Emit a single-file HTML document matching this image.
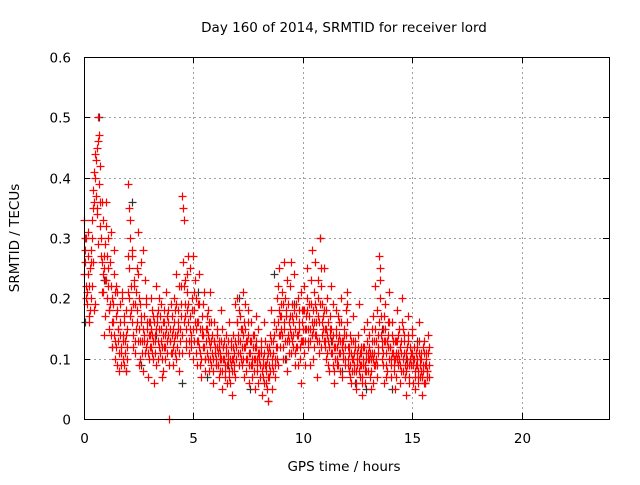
<!DOCTYPE html>
<html><head><meta charset="utf-8"><style>
body{margin:0;background:#fff;}
svg text{font-family:"DejaVu Sans","Liberation Sans",sans-serif;font-size:13.5px;fill:#000;}
</style></head><body>
<svg id="chart" width="640" height="480" xmlns="http://www.w3.org/2000/svg">
<rect width="640" height="480" fill="#fff"/>
<text x="344" y="32" text-anchor="middle">Day 160 of 2014, SRMTID for receiver lord</text>
<text x="344" y="471" text-anchor="middle">GPS time / hours</text>
<text transform="translate(19,238) rotate(-90)" text-anchor="middle">SRMTID / TECUs</text>
<g id="grid"></g>
<g id="ticks"></g>
<g id="black"></g>
<g id="red"></g>
<rect x="84.5" y="57.5" width="525" height="362" fill="none" stroke="#000" stroke-width="1"/>
</svg>
<script>
const xTicks=[0,5,10,15,20];
const yTicks=[0,0.1,0.2,0.3,0.4,0.5,0.6];
const yTickLabels=["0","0.1","0.2","0.3","0.4","0.5","0.6"];
const sampleStep=0.05;
const redA=[
[0.33,0.26,0.30,0.21,0.24,0.17,0.28,0.22,0.35,0.41,0.19,0.37,0.45,0.50,0.39,0.32,0.36,0.24,0.14,0.29],
[0.36,0.27,0.22,0.15,0.19,0.31,0.12,0.24,0.10,0.17,0.21,0.13,0.08,0.16,0.11,0.20,0.14,0.09,0.18,0.12],
[0.39,0.25,0.33,0.18,0.28,0.14,0.22,0.11,0.16,0.31,0.09,0.19,0.26,0.13,0.08,0.17,0.23,0.12,0.15,0.10],
[0.14,0.20,0.11,0.17,0.06,0.13,0.22,0.16,0.10,0.15,0.19,0.12,0.08,0.18,0.14,0.21,0.11,0.16,0.00,0.13],
[0.17,0.09,0.20,0.14,0.24,0.12,0.18,0.08,0.15,0.22,0.37,0.33,0.19,0.13,0.21,0.16,0.11,0.25,0.14,0.18],
[0.27,0.13,0.20,0.09,0.16,0.24,0.11,0.07,0.15,0.19,0.12,0.10,0.17,0.14,0.08,0.21,0.13,0.11,0.06,0.16],
[0.12,0.09,0.15,0.07,0.11,0.18,0.05,0.10,0.13,0.08,0.14,0.06,0.11,0.16,0.09,0.04,0.12,0.08,0.19,0.10],
[0.20,0.14,0.09,0.17,0.12,0.21,0.07,0.15,0.10,0.13,0.18,0.06,0.11,0.16,0.09,0.14,0.05,0.12,0.08,0.15],
[0.11,0.07,0.13,0.04,0.09,0.16,0.06,0.10,0.03,0.12,0.08,0.18,0.05,0.11,0.14,0.07,0.20,0.09,0.25,0.12],
[0.15,0.21,0.10,0.26,0.13,0.18,0.08,0.16,0.22,0.11,0.19,0.14,0.24,0.09,0.17,0.12,0.20,0.15,0.06,0.18],
[0.13,0.22,0.09,0.17,0.25,0.12,0.19,0.15,0.28,0.10,0.21,0.14,0.18,0.07,0.23,0.16,0.30,0.12,0.19,0.25],
[0.15,0.10,0.20,0.13,0.08,0.17,0.22,0.11,0.14,0.06,0.18,0.12,0.09,0.16,0.13,0.20,0.07,0.11,0.15,0.10],
[0.21,0.12,0.08,0.14,0.06,0.10,0.17,0.09,0.13,0.05,0.11,0.19,0.07,0.12,0.04,0.09,0.15,0.06,0.10,0.13],
[0.08,0.14,0.05,0.11,0.17,0.09,0.22,0.13,0.07,0.12,0.27,0.25,0.10,0.15,0.06,0.19,0.11,0.08,0.14,0.21],
[0.12,0.07,0.16,0.10,0.05,0.13,0.18,0.09,0.15,0.06,0.11,0.20,0.08,0.13,0.04,0.10,0.17,0.07,0.12,0.09],
[0.14,0.06,0.10,0.05,0.12,0.08,0.16,0.07,0.11,0.04,0.09,0.13,0.06,0.10,0.08,0.12]
];
const redB=[
[0.28,0.22,0.19,0.31,0.16,0.25,0.20,0.33,0.26,0.18,0.44,0.35,0.29,0.47,0.42,0.27,0.21,0.33,0.25,0.17],
[0.23,0.30,0.18,0.26,0.14,0.20,0.16,0.28,0.13,0.22,0.09,0.15,0.19,0.12,0.21,0.10,0.17,0.13,0.08,0.15],
[0.21,0.35,0.17,0.27,0.12,0.23,0.19,0.15,0.25,0.13,0.20,0.10,0.16,0.28,0.14,0.11,0.19,0.13,0.07,0.16],
[0.12,0.15,0.18,0.10,0.14,0.09,0.17,0.13,0.20,0.11,0.15,0.07,0.16,0.12,0.10,0.17,0.14,0.09,0.13,0.19],
[0.11,0.15,0.13,0.18,0.10,0.16,0.22,0.13,0.19,0.11,0.35,0.16,0.23,0.12,0.18,0.27,0.15,0.13,0.20,0.10],
[0.18,0.23,0.11,0.16,0.13,0.19,0.09,0.14,0.12,0.21,0.08,0.15,0.11,0.18,0.13,0.10,0.16,0.08,0.13,0.11],
[0.09,0.14,0.11,0.13,0.08,0.10,0.15,0.12,0.07,0.11,0.09,0.13,0.08,0.06,0.12,0.10,0.14,0.11,0.07,0.16],
[0.13,0.18,0.11,0.15,0.09,0.14,0.12,0.19,0.08,0.16,0.11,0.13,0.09,0.07,0.14,0.10,0.12,0.17,0.10,0.06],
[0.09,0.12,0.08,0.10,0.06,0.13,0.09,0.05,0.11,0.07,0.14,0.10,0.08,0.16,0.09,0.12,0.10,0.22,0.14,0.17],
[0.19,0.12,0.16,0.20,0.10,0.23,0.14,0.11,0.17,0.26,0.13,0.16,0.11,0.19,0.14,0.09,0.16,0.12,0.21,0.13],
[0.18,0.11,0.15,0.20,0.13,0.17,0.09,0.23,0.14,0.18,0.12,0.26,0.16,0.20,0.11,0.19,0.22,0.14,0.17,0.13],
[0.12,0.18,0.14,0.09,0.15,0.11,0.13,0.19,0.08,0.12,0.14,0.10,0.17,0.11,0.08,0.13,0.10,0.14,0.12,0.18],
[0.16,0.09,0.12,0.07,0.11,0.13,0.08,0.12,0.06,0.10,0.14,0.08,0.11,0.09,0.07,0.12,0.08,0.11,0.16,0.10],
[0.12,0.07,0.10,0.15,0.06,0.13,0.09,0.18,0.11,0.16,0.20,0.14,0.12,0.09,0.17,0.13,0.07,0.16,0.10,0.12],
[0.09,0.14,0.11,0.08,0.13,0.07,0.10,0.14,0.12,0.08,0.16,0.10,0.14,0.07,0.11,0.09,0.13,0.06,0.10,0.15],
[0.10,0.12,0.07,0.11,0.09,0.06,0.13,0.10,0.08,0.12,0.06,0.09,0.11,0.07,0.14,0.09]
];
const redC=[
[0.24,0.30,0.20,0.27,0.22,0.18,0.26,0.30,0.38,0.36,0.40,0.43,0.34,0.46,0.36,0.30,0.26,0.21,0.27,0.23],
[0.32,0.20,0.25,0.18,0.22,0.16,0.19,0.14,0.21,0.12,0.18,0.15,0.11,0.14,0.09,0.13,0.16,0.11,0.14,0.10],
[0.27,0.20,0.30,0.22,0.16,0.19,0.13,0.21,0.18,0.24,0.15,0.13,0.17,0.11,0.15,0.13,0.20,0.16,0.11,0.14],
[0.16,0.12,0.14,0.13,0.16,0.11,0.15,0.18,0.12,0.17,0.13,0.10,0.14,0.16,0.12,0.15,0.13,0.18,0.15,0.11],
[0.14,0.12,0.16,0.11,0.19,0.14,0.15,0.11,0.17,0.14,0.26,0.22,0.17,0.15,0.24,0.19,0.13,0.17,0.12,0.15],
[0.21,0.16,0.15,0.13,0.19,0.12,0.15,0.10,0.17,0.14,0.10,0.13,0.15,0.10,0.16,0.12,0.09,0.14,0.10,0.13],
[0.10,0.12,0.09,0.12,0.10,0.13,0.08,0.12,0.10,0.09,0.12,0.10,0.07,0.10,0.13,0.08,0.10,0.09,0.13,0.12],
[0.16,0.11,0.13,0.10,0.15,0.10,0.16,0.12,0.13,0.10,0.14,0.09,0.13,0.10,0.12,0.08,0.10,0.13,0.09,0.11],
[0.10,0.09,0.11,0.07,0.11,0.09,0.08,0.12,0.07,0.09,0.11,0.13,0.09,0.13,0.10,0.15,0.12,0.16,0.18,0.14],
[0.17,0.14,0.19,0.15,0.17,0.13,0.19,0.13,0.15,0.14,0.17,0.12,0.18,0.15,0.12,0.14,0.18,0.10,0.13,0.16],
[0.15,0.18,0.13,0.15,0.18,0.15,0.13,0.19,0.16,0.15,0.16,0.19,0.14,0.13,0.17,0.13,0.25,0.16,0.15,0.18],
[0.13,0.15,0.11,0.16,0.12,0.14,0.15,0.09,0.12,0.10,0.15,0.09,0.13,0.14,0.11,0.16,0.12,0.13,0.09,0.14],
[0.19,0.10,0.11,0.09,0.13,0.08,0.10,0.11,0.08,0.09,0.12,0.10,0.09,0.11,0.06,0.10,0.12,0.09,0.08,0.11],
[0.10,0.11,0.08,0.13,0.10,0.11,0.15,0.10,0.09,0.14,0.23,0.17,0.13,0.11,0.13,0.15,0.09,0.13,0.12,0.16],
[0.10,0.11,0.13,0.09,0.10,0.11,0.13,0.11,0.10,0.09,0.13,0.15,0.11,0.09,0.08,0.12,0.14,0.09,0.10,0.11],
[0.11,0.09,0.08,0.09,0.10,0.07,0.11,0.09,0.10,0.07,0.08,0.11,0.09,0.08,0.11,0.07]
];
const blackT=[0.05,0.7,0.9,1.3,1.9,2.2,2.6,3.3,4.5,5.2,5.6,6.6,7.1,7.6,8.4,8.7,9.2,9.6,10.4,10.8,11.3,11.8,12.4,12.9,13.6,14.1,14.7,15.2,15.6];
const blackV=[0.16,0.50,0.23,0.12,0.08,0.36,0.09,0.14,0.06,0.21,0.07,0.09,0.20,0.05,0.03,0.24,0.10,0.19,0.14,0.30,0.13,0.08,0.06,0.05,0.15,0.05,0.10,0.13,0.06];

const X0=84,X1=609,Y0=419,Y1=57;
const xs=h=>X0+(h/24)*(X1-X0);
const ys=v=>Y0-(v/0.6)*(Y0-Y1);
const NS="http://www.w3.org/2000/svg";
function mk(tag,attrs,parent){const e=document.createElementNS(NS,tag);for(const k in attrs)e.setAttribute(k,attrs[k]);parent.appendChild(e);return e;}
const grid=document.getElementById('grid'),ticks=document.getElementById('ticks');
xTicks.forEach(t=>{
  const x=Math.round(xs(t))+0.5;
  if(t>0){const g=mk('line',{x1:x,x2:x,y1:Y1,y2:Y0,stroke:'#a0a0a0','stroke-dasharray':'2,3'},grid);
  
  }
  mk('line',{x1:x,x2:x,y1:Y0,y2:Y0-6,stroke:'#000'},ticks);
  mk('line',{x1:x,x2:x,y1:Y1,y2:Y1+6,stroke:'#000'},ticks);
  const tx=mk('text',{x:x,y:443,'text-anchor':'middle'},ticks);tx.textContent=t;
  
  
});
yTicks.forEach((t,i)=>{
  const y=Math.round(ys(t))+0.5;
  if(t>0&&t<0.6){const g=mk('line',{x1:X0,x2:X1,y1:y,y2:y,stroke:'#a0a0a0','stroke-dasharray':'2,3'},grid);
  
  }
  mk('line',{x1:X0,x2:X0+6,y1:y,y2:y,stroke:'#000'},ticks);
  mk('line',{x1:X1,x2:X1-6,y1:y,y2:y,stroke:'#000'},ticks);
  const tx=mk('text',{x:71,y:y+5,'text-anchor':'end'},ticks);tx.textContent=yTickLabels[i];
  
  
});
function plus(g,h,v,col){
  const x=Math.round(xs(h))+0.5,y=Math.round(ys(v))+0.5;
  const p=mk('path',{d:`M${x-4} ${y}H${x+4}M${x} ${y-4}V${y+4}`,stroke:col,'stroke-width':1.2,fill:'none'},g);
  
  
}
const bg=document.getElementById('black');
blackT.forEach((t,i)=>plus(bg,t,blackV[i],'#333'));
const rg=document.getElementById('red');
redA.forEach((row,h)=>row.forEach((v,i)=>plus(rg,h+i*sampleStep,v,'#ff0000')));
redB.forEach((row,h)=>row.forEach((v,i)=>plus(rg,h+i*sampleStep+sampleStep/2,v,'#ff0000')));
redC.forEach((row,h)=>row.forEach((v,i)=>plus(rg,h+i*sampleStep+sampleStep/4,v,'#ff0000')));
</script>
</body></html>
